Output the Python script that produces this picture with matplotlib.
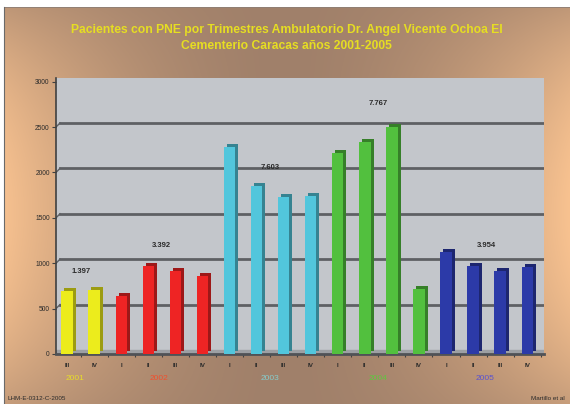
import numpy as np
import matplotlib
matplotlib.use("Agg")
import matplotlib.pyplot as plt
from matplotlib.transforms import ScaledTranslation, blended_transform_factory
from matplotlib.colors import to_rgb

# ---------------- data ----------------
quarters = ["III", "IV", "I", "II", "III", "IV", "I", "II", "III", "IV",
            "I", "II", "III", "IV", "I", "II", "III", "IV"]
years = ["2001", "2001", "2002", "2002", "2002", "2002", "2003", "2003", "2003", "2003",
         "2004", "2004", "2004", "2004", "2005", "2005", "2005", "2005"]
values = [693, 704, 640, 972, 916, 864, 2280, 1850, 1729, 1744,
          2210, 2340, 2505, 712, 1121, 966, 911, 956]
year_names = ["2001", "2002", "2003", "2004", "2005"]
year_totals = ["1.397", "3.392", "7.603", "7.767", "3.954"]
year_colors = {"2001": "#ecec1c", "2002": "#ee2424", "2003": "#52c6dc",
               "2004": "#52c03e", "2005": "#2c3aa8"}
year_label_colors = {"2001": "#e6dc2a", "2002": "#f0502e", "2003": "#86cccc",
                     "2004": "#5ec83e", "2005": "#5a52d0"}
total_heights = [904, 1190, 2050, 2756, 1190]
title = ("Pacientes con PNE por Trimestres Ambulatorio Dr. Angel Vicente Ochoa El\n"
         "Cementerio Caracas años 2001-2005")

# ---------------- figure & background ----------------
W, H = 570, 404
fig = plt.figure(figsize=(W / 100, H / 100), dpi=100)

bg = fig.add_axes([0, 0, 1, 1], zorder=-10)
xs = np.linspace(-1, 1, W)
ys = np.linspace(-1, 1, H)
X, Y = np.meshgrid(xs, ys)
dy = (Y - 0.05) / 1.05
f = np.clip(X ** 2 * (1 - 0.75 * dy ** 2), 0, 1) ** 0.85
brown = np.array(to_rgb("#a0806a"))
peach = np.array(to_rgb("#f8c290"))
img = brown[None, None, :] * (1 - f[..., None]) + peach[None, None, :] * f[..., None]
bg.imshow(img, extent=[0, 1, 0, 1], aspect="auto", origin="upper")
bg.set_xlim(0, 1)
bg.set_ylim(0, 1)
bg.axis("off")
# white top strip and border line
bg.fill_between([0, 1], 1 - 6 / H, 1, color="white", zorder=2)
bg.plot([3.5 / W, 1], [1 - 6.5 / H, 1 - 6.5 / H], color="#8a7a70", lw=0.6, zorder=3)
bg.fill_between([0, 3 / W], 0, 1, color="white", zorder=2)
bg.plot([3.5 / W, 3.5 / W], [0, 1 - 6.5 / H], color="#6a6a6a", lw=0.8, zorder=3)

# ---------------- main axes ----------------
left, right = 56 / W, 544 / W
bottom, top = (H - 354) / H, (H - 78) / H
ax = fig.add_axes([left, bottom, right - left, top - bottom])
ax.set_facecolor("#c3c6cb")
n = len(values)
x = np.arange(n)
ax.set_xlim(-0.41, n - 1 + 0.62)
ax.set_ylim(0, 3040)

# gridlines on back wall (offset up/right)
off = ScaledTranslation(4 / 100, 4 / 100, fig.dpi_scale_trans)
for v in range(500, 3000, 500):
    ax.plot([-0.41, n - 1 + 0.62], [v, v], color="#5e6064", lw=2.0,
            transform=ax.transData + off, zorder=1)
    ax.plot([-0.41, -0.26], [v, v + 45], color="#5e6064", lw=1.0, zorder=1)

# floor band
ax.axhspan(0, 45, color="#9da0a4", zorder=1)

# bars with pseudo-3D side face
w = 0.42
side_off = ScaledTranslation(3 / 100, 3 / 100, fig.dpi_scale_trans)
for xi, v, yr in zip(x, values, years):
    c = np.array(to_rgb(year_colors[yr]))
    dark = c * 0.66
    ax.bar(xi, v, width=w, color=dark, transform=ax.transData + side_off,
           zorder=2, edgecolor="none")
    ax.bar(xi, v, width=w, color=c, zorder=3, edgecolor="none")

# totals
for xp, t, hv in zip([0.5, 3.5, 7.5, 11.5, 15.5], year_totals, total_heights):
    ax.text(xp, hv, t, ha="center", va="center", fontsize=5.5,
            color="#2a2a2a", fontweight="bold", family="Liberation Sans")

# axes styling
for s in ["top", "right"]:
    ax.spines[s].set_visible(False)
ax.spines["left"].set_color("#404040")
ax.spines["left"].set_linewidth(1.2)
ax.spines["bottom"].set_color("#505256")
ax.spines["bottom"].set_linewidth(2.0)
ax.set_yticks(range(0, 3001, 500))
ax.set_yticklabels([str(v) for v in range(0, 3001, 500)], fontsize=4.8,
                   color="#2a2a2a", family="Liberation Sans")
ax.tick_params(axis="y", length=3, width=0.8, color="#404040", pad=1.5)
ax.set_xticks(x + 0.5, minor=False)
ax.set_xticklabels([])
ax.tick_params(axis="x", length=2.5, width=0.8, color="#404040", direction="out")

trans = blended_transform_factory(ax.transData, ax.transAxes)
for xi, q in zip(x, quarters):
    ax.text(xi, -0.04, q, transform=trans, ha="center", va="center",
            fontsize=4.5, color="#2a2a2a", fontweight="bold",
            family="Liberation Sans")
for yn, xp in zip(year_names, [0.3, 3.4, 7.5, 11.5, 15.45]):
    ax.text(xp, -0.088, yn, transform=trans, ha="center", va="center",
            fontsize=6, color=year_label_colors[yn], family="Liberation Sans")

# title
fig.text(0.503, (H - 38) / H, title, ha="center", va="center", fontsize=8.7,
         color="#e6de22", fontweight="bold", family="Liberation Sans",
         linespacing=1.45)

# footer texts
fig.text(8 / W, 3 / H, "LHM-E-0312-C-2005", ha="left", va="bottom",
         fontsize=4.5, color="#2a2a2a", family="Liberation Sans")
fig.text(565 / W, 3 / H, "Martillo et al", ha="right", va="bottom",
         fontsize=4.5, color="#2a2a2a", family="Liberation Sans")

fig.savefig("out.png", dpi=100)
